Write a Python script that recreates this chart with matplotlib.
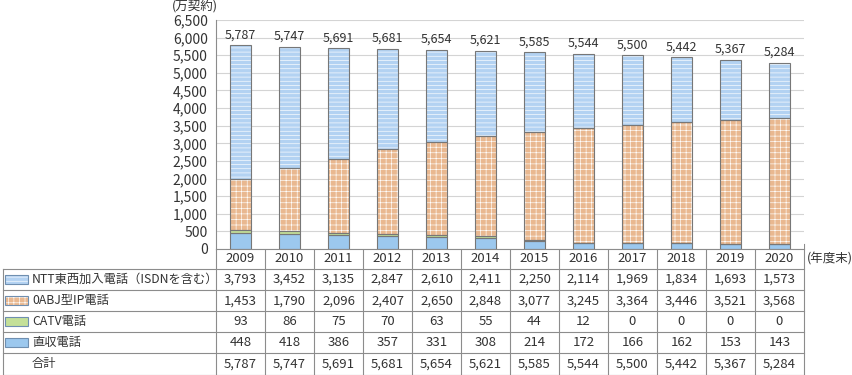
import matplotlib
matplotlib.use("Agg")
import matplotlib.pyplot as plt
from matplotlib.patches import Rectangle

plt.rcParams["font.family"] = ["Noto Sans CJK JP", "DejaVu Sans"]
plt.rcParams["hatch.linewidth"] = 0.45

# ---- data ----
years = ["2009", "2010", "2011", "2012", "2013", "2014", "2015", "2016", "2017", "2018", "2019", "2020"]
ntt = [3793, 3452, 3135, 2847, 2610, 2411, 2250, 2114, 1969, 1834, 1693, 1573]
ip0abj = [1453, 1790, 2096, 2407, 2650, 2848, 3077, 3245, 3364, 3446, 3521, 3568]
catv = [93, 86, 75, 70, 63, 55, 44, 12, 0, 0, 0, 0]
direct = [448, 418, 386, 357, 331, 308, 214, 172, 166, 162, 153, 143]
totals = [5787, 5747, 5691, 5681, 5654, 5621, 5585, 5544, 5500, 5442, 5367, 5284]
yticks = list(range(0, 6501, 500))

names = ["NTT東西加入電話（ISDNを含む）", "0ABJ型IP電話", "CATV電話", "直収電話"]
series = [ntt, ip0abj, catv, direct]
faces = ["#b3d2f2", "#e9b890", "#c4e098", "#9cc8ee"]
hatches = ["----", "+++", None, None]

W, H = 853, 375
L, R, TOP, BASE = 216, 804, 20, 249
cw = (R - L) / len(years)
txt = "#333333"
line = "#8c8c8c"

fig = plt.figure(figsize=(W / 100, H / 100), dpi=100)
ax = fig.add_axes([L / W, (H - BASE) / H, (R - L) / W, (BASE - TOP) / H])

# ---- stacked bars (bottom to top: 直収, CATV, 0ABJ, NTT) ----
x = list(range(len(years)))
bottom = [0] * len(years)
for k in [3, 2, 1, 0]:
    vals = series[k]
    ax.bar(x, vals, bottom=bottom, width=0.42, color=faces[k], edgecolor="white",
           hatch=hatches[k], linewidth=0, zorder=2)
    ax.bar(x, vals, bottom=bottom, width=0.42, fill=False, edgecolor="#777777",
           linewidth=0.8, zorder=3)
    bottom = [b + v for b, v in zip(bottom, vals)]

for i, t in enumerate(totals):
    ax.text(i, t + 110, f"{t:,}", ha="center", va="bottom", fontsize=9, color=txt)

ax.set_xlim(-0.5, len(years) - 0.5)
ax.set_ylim(0, 6500)
ax.set_yticks(yticks)
ax.set_yticklabels([f"{v:,}" for v in yticks], fontsize=10, color=txt)
ax.set_xticks([])
ax.tick_params(axis="y", length=0, pad=6)
ax.grid(axis="y", color="#d4d4d4", lw=0.8, zorder=0)
for s in ["top", "right"]:
    ax.spines[s].set_visible(False)
ax.spines["left"].set_color(line)
ax.spines["bottom"].set_color(line)
ax.spines["left"].set_linewidth(0.8)
ax.spines["bottom"].set_linewidth(0.8)

# ---- data table drawn in pixel coords ----
tb = fig.add_axes([0, 0, 1, 1], zorder=-1)
tb.set_xlim(0, W)
tb.set_ylim(H, 0)
tb.axis("off")

row_top = 269
rh = (374.5 - row_top) / 5
rows_y = [row_top + r * rh for r in range(6)]

# horizontal lines
for yy in rows_y:
    tb.plot([3, R], [yy, yy], color=line, lw=0.8)
# vertical lines
tb.plot([3, 3], [row_top, rows_y[-1]], color=line, lw=0.8)
tb.plot([L, L], [BASE, rows_y[-1]], color=line, lw=0.8)
for i in range(1, len(years) + 1):
    tb.plot([L + i * cw] * 2, [BASE - 5, rows_y[-1]], color=line, lw=0.8)

# year row
for i, yr in enumerate(years):
    tb.text(L + (i + 0.5) * cw, (BASE + row_top) / 2, yr, ha="center", va="center",
            fontsize=9.5, color=txt)
tb.text(807, (BASE + row_top) / 2, "(年度末)", ha="left", va="center", fontsize=9, color=txt)
tb.text(195, 6, "(万契約)", ha="center", va="center", fontsize=9, color=txt)

# series rows
for r, (nm, vals) in enumerate(zip(names, series)):
    cy = rows_y[r] + rh / 2
    tb.add_patch(Rectangle((5, cy - 4.5), 23, 9, facecolor=faces[r], edgecolor="white",
                           hatch=hatches[r], linewidth=0))
    tb.add_patch(Rectangle((5, cy - 4.5), 23, 9, fill=False, edgecolor="#6f8fb0", linewidth=0.8))
    tb.text(32, cy, nm, ha="left", va="center", fontsize=8.8, color=txt)
    for i, v in enumerate(vals):
        tb.text(L + (i + 0.5) * cw, cy, f"{v:,}", ha="center", va="center", fontsize=9.5, color=txt)

cy = rows_y[4] + rh / 2
tb.text(32, cy, "合計", ha="left", va="center", fontsize=8.8, color=txt)
for i, v in enumerate(totals):
    tb.text(L + (i + 0.5) * cw, cy, f"{v:,}", ha="center", va="center", fontsize=9.5, color=txt)

fig.savefig("out.png", dpi=100)
